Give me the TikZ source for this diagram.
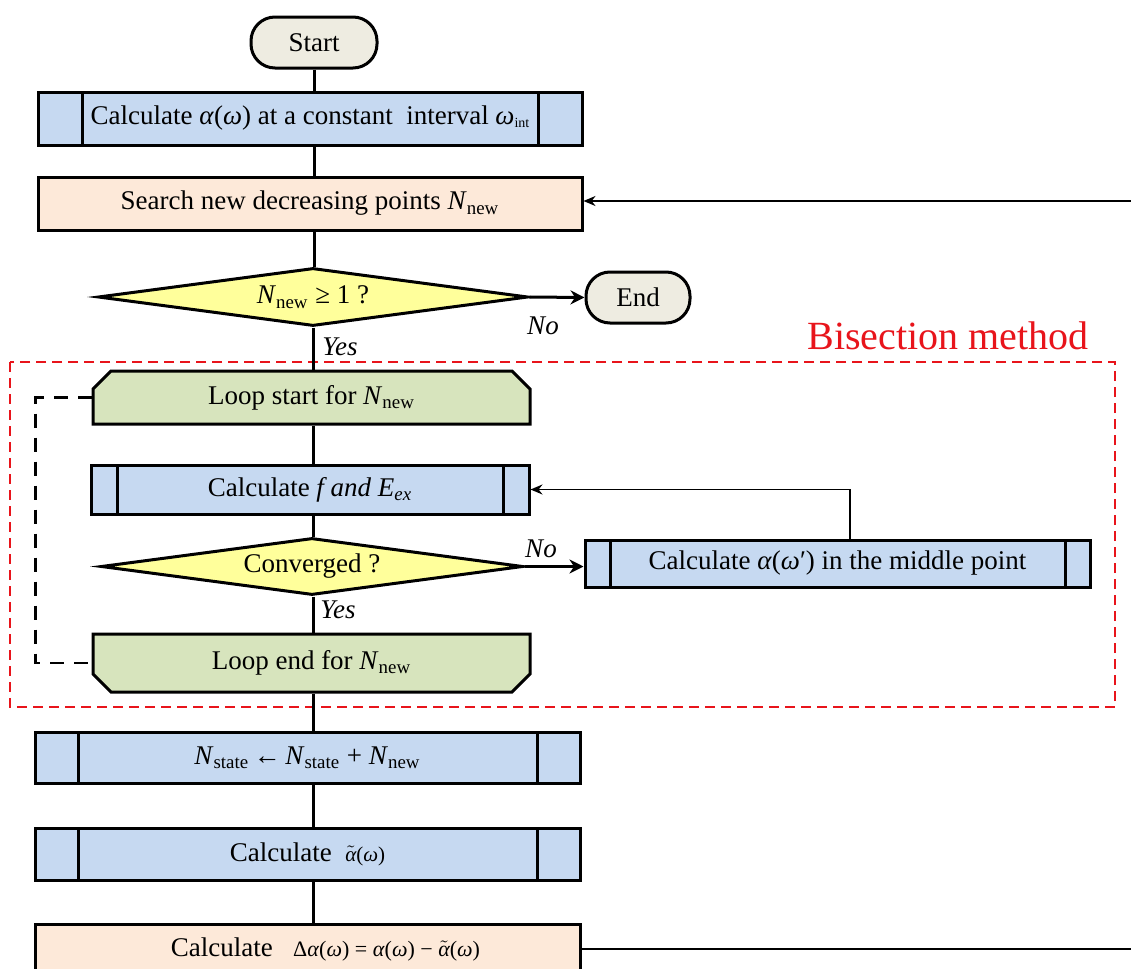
\documentclass[tikz,border=0pt]{standalone}
\usepackage{amsmath}
\usepackage{fontspec}
\setmainfont{Liberation Serif}
\usetikzlibrary{arrows.meta,shapes.geometric,shapes.misc}
\definecolor{cblue}{HTML}{C6D9F1}
\definecolor{cpeach}{HTML}{FDE9D9}
\definecolor{cgreen}{HTML}{D7E4BD}
\definecolor{cyellow}{HTML}{FFFF9B}
\definecolor{cbeige}{HTML}{EEECE1}
\definecolor{cred}{HTML}{E8141B}
\newcommand{\iv}[1]{\textit{#1}}
\newcommand{\sbs}[1]{\textsubscript{#1}}
\newcommand{\Nnew}{\iv{N}\sbs{new}}
\tikzset{
  base/.style={draw=black, line width=1.5pt, inner sep=0pt, font=\fontsize{13.5}{16}\selectfont, text=black},
  term/.style={base, fill=cbeige, rectangle, rounded corners=12pt},
  sub/.style={base, fill=cblue, rectangle,
    path picture={
      \draw[line width=1.5pt] ([xshift=#1]path picture bounding box.north west) -- ([xshift=#1]path picture bounding box.south west);
      \draw[line width=1.5pt] ([xshift=-#1]path picture bounding box.north east) -- ([xshift=-#1]path picture bounding box.south east);
    }},
  proc/.style={base, fill=cpeach, rectangle},
  dec/.style={base, fill=cyellow, diamond, shape aspect=7.4},
  loopbox/.style={base, fill=cgreen, chamfered rectangle, chamfered rectangle xsep=4.5pt, chamfered rectangle ysep=4.5pt},
  conn/.style={line width=1.5pt},
  arr/.style={line width=1.5pt, -{Stealth[length=7pt,width=7pt]}},
  thinarr/.style={line width=0.9pt, -{Stealth[length=6pt,width=5pt]}},
  lab/.style={font=\fontsize{13.5}{16}\selectfont\itshape, inner sep=0pt},
}
\begin{document}
\begin{tikzpicture}[x=0.5pt,y=-0.5pt]
\path[use as bounding box, fill=white] (0,0) rectangle (1131,969);

\node[term, minimum width=63pt, minimum height=25.5pt] (start) at (314,42.5) {Start};
\node[sub=22pt, minimum width=272pt, minimum height=26.5pt] (b1) at (310,118.5)
  {Calculate \iv{α}(\iv{ω}) at a constant\ \ interval \iv{ω}{\fontsize{7}{8}\selectfont\raisebox{-0.35ex}{int}}};
\node[proc, minimum width=272pt, minimum height=26.5pt] (b2) at (310,203.5)
  {Search new decreasing points \Nnew};
\node[dec, minimum width=215pt, minimum height=29pt] (d1) at (313,297)
  {\Nnew\ ≥ 1 ?};
\node[term, minimum width=52pt, minimum height=25.5pt] (end) at (638,297.5) {End};

\node[loopbox, chamfered rectangle corners={north west,north east}, minimum width=218.5pt, minimum height=26.5pt] (ls) at (311.5,397.5)
  {Loop start for \Nnew};
\node[sub=13pt, minimum width=219pt, minimum height=24.5pt] (bf) at (310,489.5)
  {Calculate \iv{f and E}\sbs{\iv{ex}}};
\node[dec, minimum width=211pt, minimum height=28.5pt] (d2) at (312,566.5)
  {Converged ?};
\node[sub=12.5pt, minimum width=252.5pt, minimum height=23.5pt] (bm) at (837.5,563.5)
  {Calculate \iv{α}(\iv{ω}′) in the middle point};
\node[loopbox, chamfered rectangle corners={south west,south east}, minimum width=218.5pt, minimum height=29pt] (le) at (311.5,663)
  {Loop end for \Nnew};

\node[sub=21.5pt, minimum width=272.5pt, minimum height=25.5pt] (bs) at (307.5,757.5)
  {\iv{N}\sbs{state}\,←\,\iv{N}\sbs{state} + \Nnew};
\node[sub=21.5pt, minimum width=272.5pt, minimum height=26pt] (bt) at (307.5,854)
  {Calculate\ \ {\fontsize{10.5}{12}\selectfont$\tilde{\text{\itshape α}}$(\iv{ω})}};
\node[proc, minimum width=272.5pt, minimum height=25pt] (bd) at (307.5,949)
  {\hspace{18pt}Calculate\ \ \ {\fontsize{11}{12}\selectfont Δ\iv{α}(\iv{ω}) = \iv{α}(\iv{ω}) − $\tilde{\text{\itshape α}}$(\iv{ω})}};

% red dashed frame
\draw[cred, line width=1pt, dash pattern=on 5pt off 3pt] (10,362) rectangle (1115,707);
\node[text=cred, font=\fontsize{20}{24}\selectfont, inner sep=0pt] (title) at (948,336) {Bisection method};

% connectors (main spine at x of start)
\draw[conn] (start.south) -- (start.south |- b1.north);
\draw[conn] (start.south |- b1.south) -- (start.south |- b2.north);
\draw[conn] (start.south |- b2.south) -- (start.south |- d1.north);
\draw[arr] (d1.east) -- (end.west);
\draw[conn] (d1.south) -- (d1.south |- ls.north);
\draw[conn] (d1.south |- ls.south) -- (d1.south |- bf.north);
\draw[conn] (d1.south |- bf.south) -- (d1.south |- d2.north);
\draw[arr] (d2.east) -- (d2.east -| bm.west);
\draw[thinarr] ([xshift=6.25pt]bm.north) |- (bf.east);
\draw[conn] (d1.south |- d2.south) -- (d1.south |- le.north);
\draw[conn] (d1.south |- le.south) -- (d1.south |- bs.north);
\draw[conn] (d1.south |- bs.south) -- (d1.south |- bt.north);
\draw[conn] (d1.south |- bt.south) -- (d1.south |- bd.north);
\draw[line width=1.2pt, dash pattern=on 7pt off 5pt] (ls.west) -- ++(-56,0) |- (le.west);

\coordinate (e1) at (1131,946);
\coordinate (e2) at (1131,201);
\draw[line width=1pt] (bd.east) -- (bd.east -| e1);
\draw[thinarr] (e2) -- (e2 -| b2.east);

% labels
\node[lab] (no1) at (543,326) {No};
\node[lab] (yes1) at (340,347) {Yes};
\node[lab] (no2) at (541,549) {No};
\node[lab] (yes2) at (338,610) {Yes};
\end{tikzpicture}
\end{document}
